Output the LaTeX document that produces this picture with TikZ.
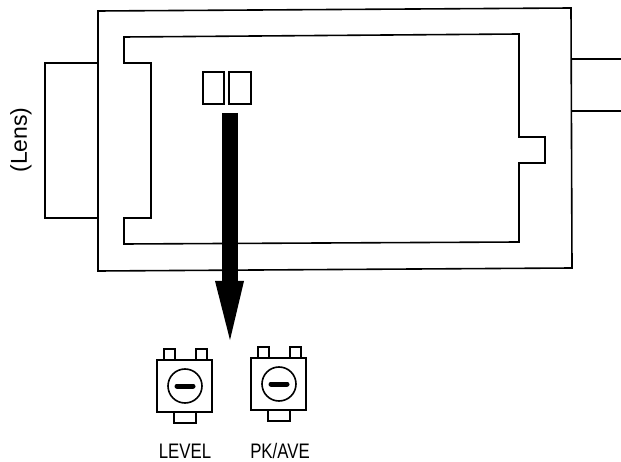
\documentclass[tikz,border=0pt]{standalone}
\usepackage{fontspec}
\setmainfont{Liberation Sans}
\tikzset{
	part/.style={line width=1.6pt,line join=miter},
	caption/.style={anchor=base,inner sep=0pt,font=\fontsize{21}{21}\selectfont,xscale=0.8,transform shape}
}
\begin{document}
\begin{tikzpicture}[x=1pt,y=-1pt]
	\useasboundingbox (0,0) rectangle (621,462);
	\draw[part] (98,11) -- (571,8) -- (572,268) -- (98,271) -- cycle;
	\draw[part] (98,63) -- (45,63) -- (45,218) -- (98,218);
	\draw[part] (124,37) -- (519,34) -- (519,137) -- (545,137) -- (545,163) -- (519,163) -- (519,242) -- (124,244) -- (124,218) -- (151,218) -- (151,63) -- (124,63) -- cycle;
	\draw[part] (572,59) -- (621,59);
	\draw[part] (572,111) -- (621,111);
	\draw[part] (203,72) rectangle (224,104);
	\draw[part] (229,72) rectangle (251,104);
	\node[rotate=90,inner sep=0pt,font=\fontsize{23}{23}\selectfont] (lens) at (21,140) {(Lens)};
	% arrow down to the switches
	\coordinate (arrowstart) at (230,113);
	\coordinate (arrowneck) at (230,281);
	\coordinate (arrowend) at (230,340);
	\draw[line width=16pt] (arrowstart) -- (arrowneck);
	\fill ([xshift=-15pt]arrowneck) -- ([xshift=14pt]arrowneck) -- (arrowend) -- cycle;
	\foreach \sx/\sy in {157/360,251/358}{
		\begin{scope}[shift={(\sx,\sy)}]
			\draw[part] (0,0) rectangle (55,52);
			\draw[part] (7,0) -- (7,-11) -- (18,-11) -- (18,0);
			\draw[part] (39,0) -- (39,-11) -- (50,-11) -- (50,0);
			\draw[part] (17,52) -- (17,63) -- (39,63) -- (39,52);
			\draw[part] (28,26) circle (17);
			\draw[line width=5pt,line cap=round] (20,26) -- (36,26);
		\end{scope}
	}
	\node[caption] (level) at (185,458) {LEVEL};
	\node[caption] (pkave) at (280,458) {PK/AVE};
\end{tikzpicture}
\end{document}
